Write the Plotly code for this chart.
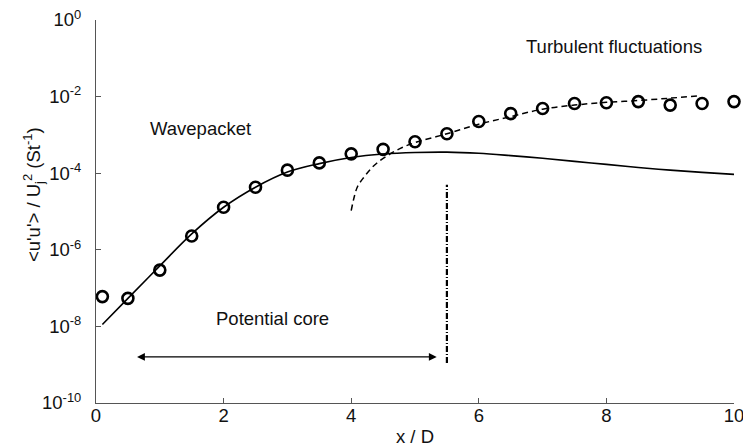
import numpy as np
import plotly.graph_objects as go

# ---- data ----
x_pts = [0.1, 0.5, 1.0, 1.5, 2.0, 2.5, 3.0, 3.5, 4.0, 4.5, 5.0, 5.5,
         6.0, 6.5, 7.0, 7.5, 8.0, 8.5, 9.0, 9.5, 10.0]
measured = [6.0e-8, 5.4e-8, 2.95e-7, 2.3e-6, 1.29e-5, 4.3e-5, 1.2e-4, 1.86e-4,
            3.2e-4, 4.2e-4, 6.6e-4, 1.07e-3, 2.24e-3, 3.6e-3, 4.9e-3, 6.6e-3,
            6.9e-3, 7.4e-3, 6.0e-3, 6.6e-3, 7.4e-3]

x_wave = [0.1, 0.5, 1.0, 1.5, 2.0, 2.5, 3.0, 3.5, 4.0, 4.5, 5.0, 5.5,
          6.0, 6.5, 7.0, 7.5, 8.0, 8.5, 9.0, 9.5, 10.0]
wavepacket = [1.12e-8, 5.4e-8, 3.8e-7, 2.6e-6, 1.29e-5, 4.3e-5, 1.07e-4, 1.78e-4,
              2.57e-4, 3.16e-4, 3.47e-4, 3.55e-4, 3.31e-4, 2.88e-4, 2.45e-4,
              2.04e-4, 1.70e-4, 1.41e-4, 1.20e-4, 1.05e-4, 9.3e-5]

x_turb = [4.0, 4.05, 4.1, 4.2, 4.3, 4.4, 4.6, 4.8, 5.0, 5.5, 6.0, 6.5,
          7.0, 7.5, 8.0, 8.5, 9.0, 9.45]
turbulent = [1.05e-5, 2.5e-5, 4.5e-5, 7.9e-5, 1.26e-4, 1.82e-4, 3.1e-4, 4.7e-4,
             6.3e-4, 1.07e-3, 1.9e-3, 3.0e-3, 4.7e-3, 6.0e-3, 7.1e-3, 7.9e-3,
             9.1e-3, 1.05e-2]

core_end_x = [5.5, 5.5]
core_end_y = [1.1e-9, 5.0e-5]
arrow_x = [0.62, 5.34]
arrow_y = 1.6e-9

x_ticks = [0, 2, 4, 6, 8, 10]
y_tick_vals = [1e0, 1e-2, 1e-4, 1e-6, 1e-8, 1e-10]
y_tick_text = ["10<sup>0</sup>", "10<sup>-2</sup>", "10<sup>-4</sup>",
               "10<sup>-6</sup>", "10<sup>-8</sup>", "10<sup>-10</sup>"]

FONT = "Liberation Sans, Arial, sans-serif"
FS = 18.5

fig = go.Figure()

fig.add_trace(go.Scatter(
    x=x_wave, y=wavepacket, mode="lines", line=dict(color="black", width=1.6, shape="spline"),
    showlegend=False, hoverinfo="skip"))
fig.add_trace(go.Scatter(
    x=x_turb, y=turbulent, mode="lines",
    line=dict(color="black", width=1.5, dash="6px,4px", shape="spline"),
    showlegend=False, hoverinfo="skip"))
fig.add_trace(go.Scatter(
    x=core_end_x, y=core_end_y, mode="lines",
    line=dict(color="black", width=2.2, dash="6px,2px,1px,2px"),
    showlegend=False, hoverinfo="skip"))
fig.add_trace(go.Scatter(
    x=x_pts, y=measured, mode="markers",
    marker=dict(symbol="circle-open", size=11, color="black", line=dict(width=2.6, color="black")),
    cliponaxis=False, showlegend=False))

ly = float(np.log10(arrow_y))
fig.add_annotation(x=arrow_x[1], y=ly, ax=arrow_x[0], ay=ly, xref="x", yref="y",
                   axref="x", ayref="y", text="", showarrow=True, arrowhead=2,
                   arrowside="end+start", arrowsize=1.3, arrowwidth=1.2, arrowcolor="black",
                   standoff=0, startstandoff=0)

for txt, xx, yy in [("Wavepacket", 1.64, -2.83),
                    ("Turbulent fluctuations", 8.12, -0.70),
                    ("Potential core", 2.76, -7.79)]:
    fig.add_annotation(x=xx, y=yy, xref="x", yref="y", text=txt, showarrow=False,
                       font=dict(family=FONT, size=FS, color="#111"))

# y-axis title as rotated text
fig.add_annotation(x=-62 / 638, y=(403 - 195) / 383, xref="paper", yref="paper",
                   xanchor="center", yanchor="middle", textangle=-90, showarrow=False,
                   text="&lt;u'u'&gt; / U<sub>j</sub><sup>2</sup> (St<sup>-1</sup>)",
                   font=dict(family=FONT, size=FS, color="#111"))

fig.update_layout(
    width=743, height=447,
    margin=dict(l=96, r=9, t=20, b=44),
    paper_bgcolor="white", plot_bgcolor="white",
    font=dict(family=FONT, size=FS, color="#111"),
)
fig.update_xaxes(range=[0, 10], tickvals=x_ticks, ticks="inside", ticklen=5,
                 tickcolor="#555", showline=True, linecolor="#555", linewidth=1,
                 showgrid=False, zeroline=False, mirror=False,
                 ticklabeloverflow="allow", automargin=False, ticklabelstandoff=-4,
                 title=dict(text="x / D", standoff=4, font=dict(size=FS)),
                 tickfont=dict(size=FS))
fig.update_yaxes(type="log", range=[-10, 0], tickvals=y_tick_vals, ticktext=y_tick_text,
                 ticks="inside", ticklen=5, tickcolor="#555", showline=True,
                 linecolor="#555", linewidth=1, showgrid=False, zeroline=False,
                 ticklabelstandoff=10, ticklabeloverflow="allow", automargin=False,
                 tickfont=dict(size=FS))

fig.write_html("out.html")
